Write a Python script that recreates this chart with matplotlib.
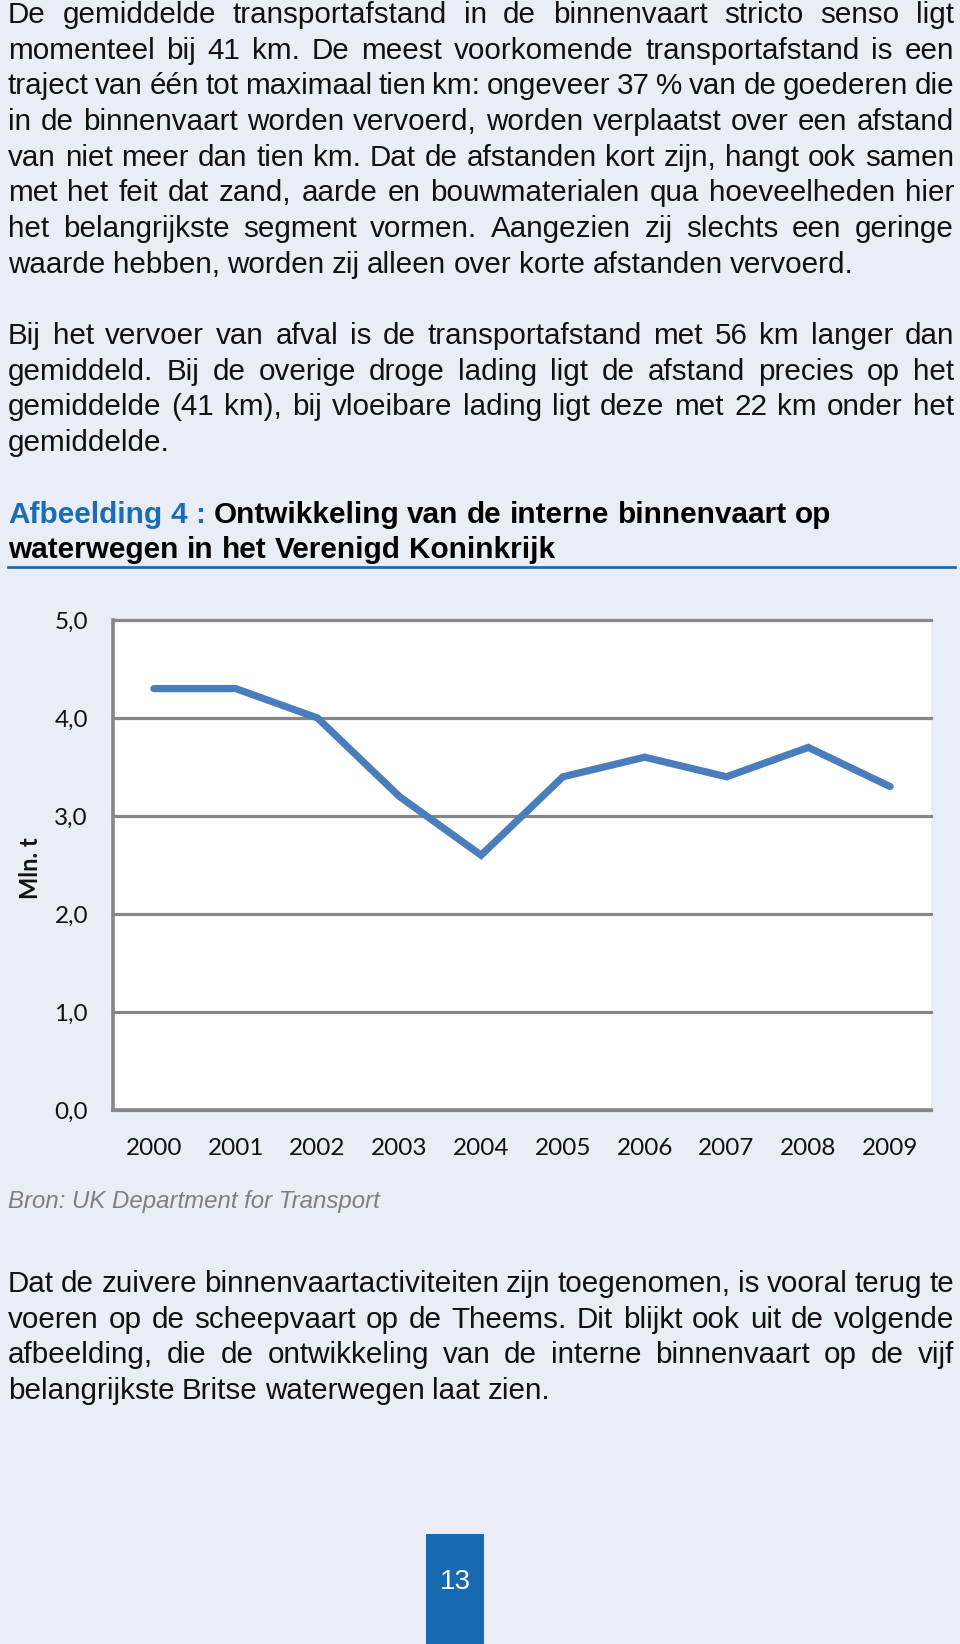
import matplotlib
matplotlib.use("Agg")
import matplotlib.pyplot as plt
from matplotlib.patches import Rectangle
from matplotlib.lines import Line2D

# chart data
years = ['2000', '2001', '2002', '2003', '2004', '2005', '2006', '2007', '2008', '2009']
tonnage = [4.3, 4.3, 4.0, 3.2, 2.6, 3.4, 3.6, 3.4, 3.7, 3.3]
y_ticks = [0, 1, 2, 3, 4, 5]
y_tick_labels = ['0,0', '1,0', '2,0', '3,0', '4,0', '5,0']
y_label = 'Mln. t'
source = 'Bron: UK Department for Transport'

# page text
para1 = [
    "De gemiddelde transportafstand in de binnenvaart stricto senso ligt",
    "momenteel bij 41 km. De meest voorkomende transportafstand is een",
    "traject van één tot maximaal tien km: ongeveer 37 % van de goederen die",
    "in de binnenvaart worden vervoerd, worden verplaatst over een afstand",
    "van niet meer dan tien km. Dat de afstanden kort zijn, hangt ook samen",
    "met het feit dat zand, aarde en bouwmaterialen qua hoeveelheden hier",
    "het belangrijkste segment vormen. Aangezien zij slechts een geringe",
    "waarde hebben, worden zij alleen over korte afstanden vervoerd.",
]
para2 = [
    "Bij het vervoer van afval is de transportafstand met 56 km langer dan",
    "gemiddeld. Bij de overige droge lading ligt de afstand precies op het",
    "gemiddelde (41 km), bij vloeibare lading ligt deze met 22 km onder het",
    "gemiddelde.",
]
para3 = [
    "Dat de zuivere binnenvaartactiviteiten zijn toegenomen, is vooral terug te",
    "voeren op de scheepvaart op de Theems. Dit blijkt ook uit de volgende",
    "afbeelding, die de ontwikkeling van de interne binnenvaart op de vijf",
    "belangrijkste Britse waterwegen laat zien.",
]
title_prefix = "Afbeelding 4 :"
title_lines = ["Ontwikkeling van de interne binnenvaart op",
               "waterwegen in het Verenigd Koninkrijk"]
page_number = "13"

W, H = 960, 1644
BG = '#E9EDF5'
BLUE = '#1B6DB3'
LEFT, RIGHT = 8, 954
FONT = 'Liberation Sans'
SPACE = 0.278  # space width of the font, in em

fig = plt.figure(figsize=(W / 100, H / 100), dpi=100, facecolor=BG)
renderer = fig.canvas.get_renderer()


def fx(x):
    return x / W


def fy(y):
    return 1 - y / H


def word_widths(words, size, weight='normal'):
    out = []
    for w in words:
        t = fig.text(0, 0, w, fontsize=size, family=FONT, weight=weight)
        out.append(t.get_window_extent(renderer).width)
        t.remove()
    return out


def put_words(words, y, size, colors=None, weight='normal', justify=False, gap_scale=1.0):
    texts = []
    for i, w in enumerate(words):
        c = colors[i] if colors else '#111111'
        texts.append(fig.text(0, fy(y), w, fontsize=size, family=FONT,
                              weight=weight, color=c, va='baseline', ha='left'))
    widths = [t.get_window_extent(renderer).width for t in texts]
    gap = size * 100 / 72 * SPACE * gap_scale
    if justify and len(words) > 1:
        gap = (RIGHT - LEFT - sum(widths)) / (len(words) - 1)
    x = LEFT
    for t, w in zip(texts, widths):
        t.set_x(fx(x))
        x += w + gap


# body size: the widest justified line fits with slightly tight spaces
base = 20
tight = 0.8
justified = para1[:-1] + para2[:-1] + para3[:-1]
need = 0
for l in justified:
    ws = l.split(' ')
    need = max(need, sum(word_widths(ws, base)) + tight * SPACE * base * 100 / 72 * (len(ws) - 1))
BODY = base * (RIGHT - LEFT - 1) / need


def paragraph(lines, y0, dy=35.65):
    for i, line in enumerate(lines):
        last = i == len(lines) - 1
        put_words(line.split(' '), y0 + i * dy, BODY, justify=not last, gap_scale=0.9)


paragraph(para1, 23)
paragraph(para2, 344)
paragraph(para3, 1292)

# title
tw = title_prefix.split(' ') + title_lines[0].split(' ')
tnat = sum(word_widths(tw, 20, 'bold')) + SPACE * 20 * 100 / 72 * (len(tw) - 1)
TSIZE = 20 * (828 - 8) / tnat
cols = [BLUE] * len(title_prefix.split(' ')) + ['#000000'] * len(title_lines[0].split(' '))
put_words(tw, 523, TSIZE, colors=cols, weight='bold')
put_words(title_lines[1].split(' '), 558, TSIZE, colors=['#000000'] * 5, weight='bold')
fig.add_artist(Line2D([fx(8), fx(955)], [fy(567), fy(567)], color=BLUE, lw=2))

# chart
ax = fig.add_axes([fx(113), fy(1110), fx(931) - fx(113), (1110 - 620) / H])
ax.set_facecolor('white')
x = range(len(years))
ax.plot(x, tonnage, color='#4A7DBC', lw=5.2, solid_capstyle='round',
        solid_joinstyle='miter', zorder=3)
ax.set_xlim(-0.5, len(years) - 0.5)
ax.set_ylim(0, 5)
ax.set_yticks(y_ticks)
ax.set_yticklabels(y_tick_labels)
ax.set_xticks(list(x))
ax.set_xticklabels(years)
ax.yaxis.grid(True, color='#878787', lw=2.3)
for gl in ax.get_ygridlines():
    gl.set_clip_on(False)
ax.set_axisbelow(True)
for s in ['top', 'right']:
    ax.spines[s].set_visible(False)
for s in ['left', 'bottom']:
    ax.spines[s].set_color('#878787')
    ax.spines[s].set_linewidth(2.6)
ax.tick_params(length=0, labelsize=17.5, labelcolor='#111111')
ax.tick_params(axis='y', pad=18)
ax.tick_params(axis='x', pad=20)
for lab in ax.get_xticklabels() + ax.get_yticklabels():
    lab.set_family('Lato')
fig.text(fx(31), fy(868), y_label, rotation=90, fontsize=17, family='Lato',
         weight='bold', ha='center', va='center', color='#111111')

fig.text(fx(8), fy(1208), source, fontsize=17.3, family=FONT,
         style='italic', color='#7F7F7F', va='baseline')

# page number box
fig.add_artist(Rectangle((fx(426), 0), fx(484) - fx(426), (1644 - 1534) / H,
                         transform=fig.transFigure, facecolor='#1769B0',
                         edgecolor='none'))
fig.text(fx(455), fy(1582), page_number, fontsize=20, family=FONT,
         color='white', ha='center', va='center')

fig.savefig('out.png', dpi=100, facecolor=BG)
